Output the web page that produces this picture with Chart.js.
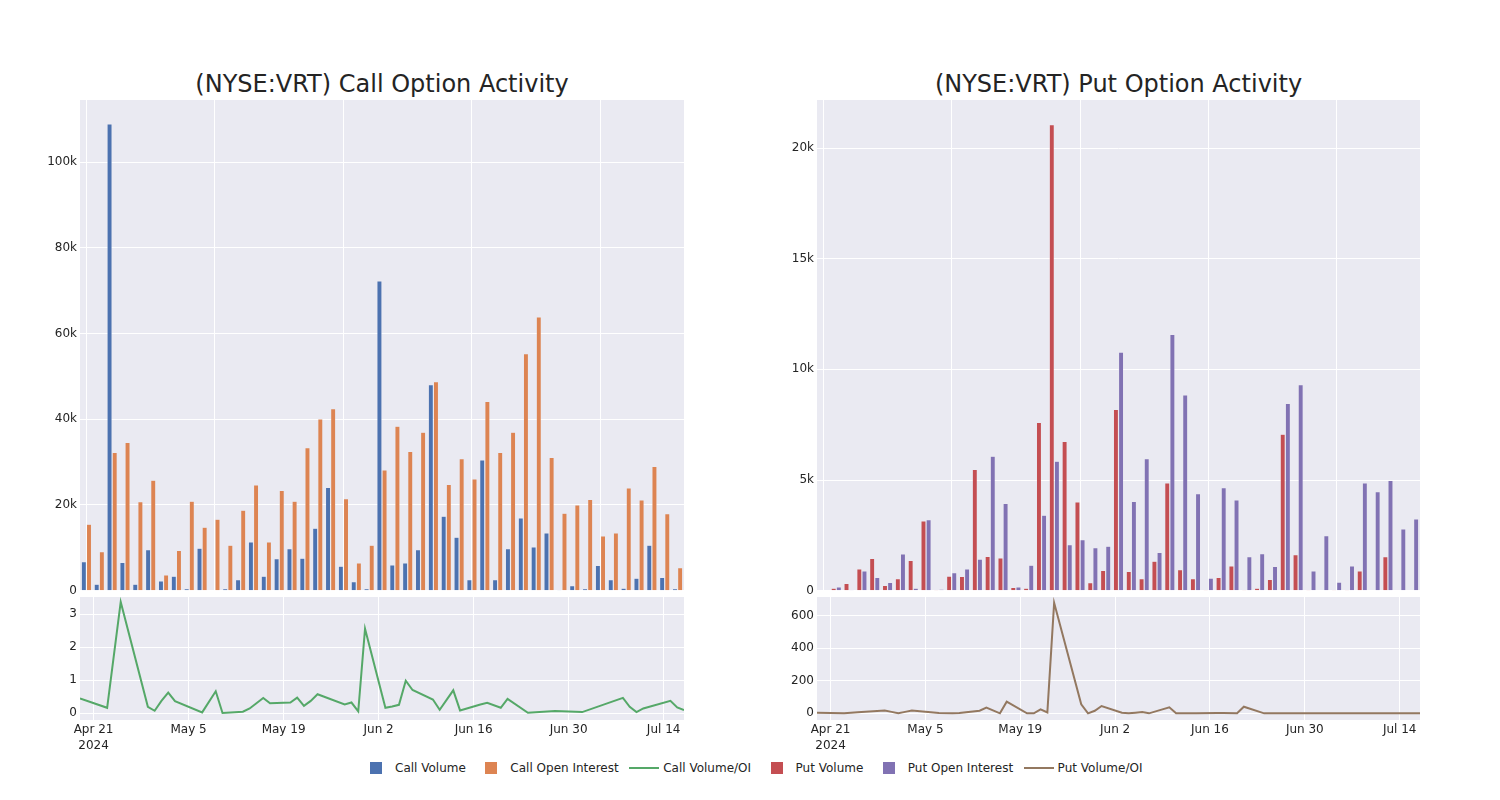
<!DOCTYPE html>
<html>
<head>
<meta charset="utf-8">
<script src="https://cdn.jsdelivr.net/npm/chart.js@4.4.1/dist/chart.umd.min.js"></script>
<style>
html,body{margin:0;padding:0;background:#fff;width:1500px;height:800px;overflow:hidden;font-family:'DejaVu Sans',sans-serif;color:rgb(36,36,36)}
canvas{position:absolute}
.title{position:absolute;top:70px;height:28px;line-height:28px;font-size:24px;text-align:center;white-space:nowrap;color:rgb(36,36,36)}
#legend{position:absolute;left:361px;top:760px;height:16px;display:flex;align-items:center;font-size:12px;color:rgb(36,36,36);white-space:nowrap}
.item{display:flex;align-items:center;margin-right:10.5px}
.sym{width:30px;height:16px;position:relative;margin-right:4px}
.sq{position:absolute;left:9px;top:2px;width:12px;height:12px}
.ln{position:absolute;left:0;top:7px;width:30px;height:2px}
</style>
</head>
<body>
<div class="title" style="left:80px;width:604px">(NYSE:VRT) Call Option Activity</div>
<div class="title" style="left:817px;width:603px">(NYSE:VRT) Put Option Activity</div>
<canvas id="barL" width="690" height="500" style="left:0;top:100px"></canvas>
<canvas id="lineL" width="690" height="170" style="left:0;top:590px"></canvas>
<canvas id="barR" width="690" height="500" style="left:737px;top:100px"></canvas>
<canvas id="lineR" width="690" height="170" style="left:737px;top:590px"></canvas>
<div id="legend"></div>
<script>
// ---- data ----
const dates = ['2024-04-19','2024-04-23','2024-04-25','2024-04-29','2024-04-30','2024-05-01','2024-05-02','2024-05-03','2024-05-07','2024-05-09',
  '2024-05-10','2024-05-13','2024-05-14','2024-05-16','2024-05-17','2024-05-20','2024-05-21','2024-05-22','2024-05-23','2024-05-24',
  '2024-05-28','2024-05-29','2024-05-30','2024-05-31','2024-06-03','2024-06-04','2024-06-05','2024-06-06','2024-06-07','2024-06-10',
  '2024-06-11','2024-06-13','2024-06-14','2024-06-17','2024-06-18','2024-06-20','2024-06-21','2024-06-24','2024-06-28','2024-07-02',
  '2024-07-08','2024-07-09','2024-07-10','2024-07-11','2024-07-15','2024-07-16','2024-07-17'];

const callVolume = [6800,1500,108900,6600,1500,9600,2300,3400,500,9900,
  0,500,2600,11400,3400,7500,9800,7600,14600,24100,
  5700,2100,500,72300,6000,6500,9600,48100,17400,12500,
  2600,30500,2600,9800,17000,10200,13500,200,1200,500,
  5900,2600,600,2900,10600,3100,500];
const callOpenInterest = [15500,9100,32300,34600,20800,25800,3700,9400,20900,14800,
  16700,10600,18800,24700,11400,23400,20900,33400,40100,42500,
  21500,6500,10600,28200,38400,32500,37000,48800,24800,30800,
  26100,44200,32300,37000,55300,63900,31100,18100,20000,21300,
  12800,13500,24000,21200,29000,18000,5400];
const callVolumeOI = [0.44,0.16,3.37,0.19,0.07,0.37,0.62,0.36,0.02,0.66,
  0.00,0.04,0.14,0.46,0.30,0.32,0.47,0.22,0.37,0.57,
  0.26,0.32,0.05,2.56,0.16,0.20,0.25,0.98,0.70,0.41,
  0.10,0.69,0.08,0.26,0.31,0.16,0.43,0.01,0.06,0.03,
  0.46,0.19,0.03,0.14,0.37,0.17,0.09];

const putVolume = [20,110,330,980,1460,240,540,1370,3150,10,
  660,650,5480,1550,1480,150,110,7600,21060,6740,
  4010,360,920,8190,870,540,1330,4870,950,540,
  50,600,1120,50,110,510,7070,1630,10,0,
  50,10,890,0,1540,0,0];
const putOpenInterest = [0,170,50,890,600,380,1660,110,3210,60,
  810,980,1430,6080,3940,170,1150,3410,5850,2080,
  2310,1950,2010,10780,4040,5970,1730,11580,8850,4390,
  570,4660,4100,1540,1670,1100,8460,9310,890,2490,
  390,1120,4870,4480,4980,2790,3240];
const putVolumeOI = [4,0,6,18,9,0,9,18,2,0,
  2,16,35,0,72,0,0,25,6,680,
  56,0,16,45,4,0,4,8,0,37,
  0,1,1,2,2,1,41,0,0,0,
  0,0,0,0,0,0,0];

// tick values / labels
const callBarTicks = [0,20000,40000,60000,80000,100000];
const putBarTicks = [0,5000,10000,15000,20000];
const callLineTicks = [0,1,2,3];
const putLineTicks = [0,200,400,600];
const dateTicks = ['2024-04-21','2024-05-05','2024-05-19','2024-06-02','2024-06-16','2024-06-30','2024-07-14'];
const dateTickLabels = [['Apr 21','2024'],'May 5','May 19','Jun 2','Jun 16','Jun 30','Jul 14'];

// ---- styling ----
const TXT = 'rgb(36,36,36)';
const C = {cv:'rgb(76,114,176)', coi:'rgb(221,132,82)', cr:'rgb(85,168,104)', pv:'rgb(196,78,82)', poi:'rgb(129,114,179)', pr:'rgb(147,120,96)'};
Chart.defaults.font.family = "'DejaVu Sans', sans-serif";
Chart.defaults.font.size = 12;
Chart.defaults.color = TXT;

const dayOf = s => { const [y,m,d] = s.split('-').map(Number); return Date.UTC(y,m-1,d)/86400000; };

const bgPlugin = {id:'bg', beforeDraw(chart){
  const {ctx, chartArea:a} = chart;
  ctx.save(); ctx.fillStyle = '#eaeaf2';
  ctx.fillRect(a.left, a.top, a.right-a.left, a.bottom-a.top); ctx.restore();
}};

function yAxis(ticks, min, max, fmt){
  return {
    min, max,
    border:{display:false},
    grid:{color:'#ffffff', lineWidth:1, drawTicks:false},
    ticks:{padding:3, color:TXT, font:{size:12}, callback:v => fmt(v)},
    afterBuildTicks: s => { s.ticks = ticks.map(v => ({value:v})); },
    afterFit: s => { s.width = 80; s.paddingTop = 0; s.paddingBottom = 0; }
  };
}
const kFmt = v => v === 0 ? '0' : (v/1000) + 'k';
const nFmt = v => String(v);

function barChart(id, sets, ticks, ymax, padRight){
  return new Chart(document.getElementById(id), {
    type:'bar',
    data:{labels:dates, datasets:sets.map(s => ({label:s.label, data:s.data, backgroundColor:s.color,
      borderColor:'rgba(234,234,242,0.4)', borderWidth:{left:0.6, right:0.6, top:0.6, bottom:0}, borderSkipped:false,
      categoryPercentage:0.8, barPercentage:1.0}))},
    options:{
      responsive:false, animation:false, events:[],
      layout:{padding:{left:0, right:padRight, top:0, bottom:9.3}},
      plugins:{legend:{display:false}, tooltip:{enabled:false}},
      scales:{
        x:{offset:true, border:{display:false},
           grid:{offset:false, drawTicks:false, lineWidth:1, color:c => (c.index % 10 === 0) ? '#ffffff' : 'rgba(0,0,0,0)'},
           ticks:{display:false},
           afterFit: s => { s.height = 0; s.paddingLeft = 0; s.paddingRight = 0; }},
        y: yAxis(ticks, 0, ymax, kFmt)
      }
    },
    plugins:[bgPlugin]
  });
}

function lineChart(id, vals, color, ticks, ymin, ymax, padRight){
  const pts = dates.map((d,i) => ({x:dayOf(d), y:vals[i]}));
  return new Chart(document.getElementById(id), {
    type:'line',
    data:{datasets:[{data:pts, borderColor:color, borderWidth:2, pointRadius:0, tension:0, fill:false}]},
    options:{
      responsive:false, animation:false, events:[],
      layout:{padding:{left:0, right:padRight, top:7, bottom:0}},
      plugins:{legend:{display:false}, tooltip:{enabled:false}},
      scales:{
        x:{type:'linear', min:dayOf(dates[0]), max:dayOf(dates[dates.length-1]),
           border:{display:false},
           grid:{color:'#ffffff', lineWidth:1, drawTicks:false},
           ticks:{padding:2, color:TXT, autoSkip:false, maxRotation:0, font:{size:12, lineHeight:1.35},
                  callback:(v,i) => dateTickLabels[i]},
           afterBuildTicks: s => { s.ticks = dateTicks.map(d => ({value:dayOf(d)})); },
           afterFit: s => { s.height = 40; s.paddingLeft = 0; s.paddingRight = 0; }},
        y: yAxis(ticks, ymin, ymax, nFmt)
      }
    },
    plugins:[bgPlugin]
  });
}

barChart('barL', [{label:'Call Volume', data:callVolume, color:C.cv},{label:'Call Open Interest', data:callOpenInterest, color:C.coi}], callBarTicks, 114500, 6);
barChart('barR', [{label:'Put Volume', data:putVolume, color:C.pv},{label:'Put Open Interest', data:putOpenInterest, color:C.poi}], putBarTicks, 22170, 7);
lineChart('lineL', callVolumeOI, C.cr, callLineTicks, -0.21, 3.52, 6);
lineChart('lineR', putVolumeOI, C.pr, putLineTicks, -41, 716, 7);

// legend
const legendItems = [
  {t:'Call Volume', c:C.cv, k:'sq'}, {t:'Call Open Interest', c:C.coi, k:'sq'}, {t:'Call Volume/OI', c:C.cr, k:'ln'},
  {t:'Put Volume', c:C.pv, k:'sq'}, {t:'Put Open Interest', c:C.poi, k:'sq'}, {t:'Put Volume/OI', c:C.pr, k:'ln'}
];
const lg = document.getElementById('legend');
legendItems.forEach(it => {
  const d = document.createElement('div'); d.className = 'item';
  d.innerHTML = '<div class="sym"><div class="' + it.k + '" style="background:' + it.c + '"></div></div><span>' + it.t + '</span>';
  lg.appendChild(d);
});
</script>
</body>
</html>
